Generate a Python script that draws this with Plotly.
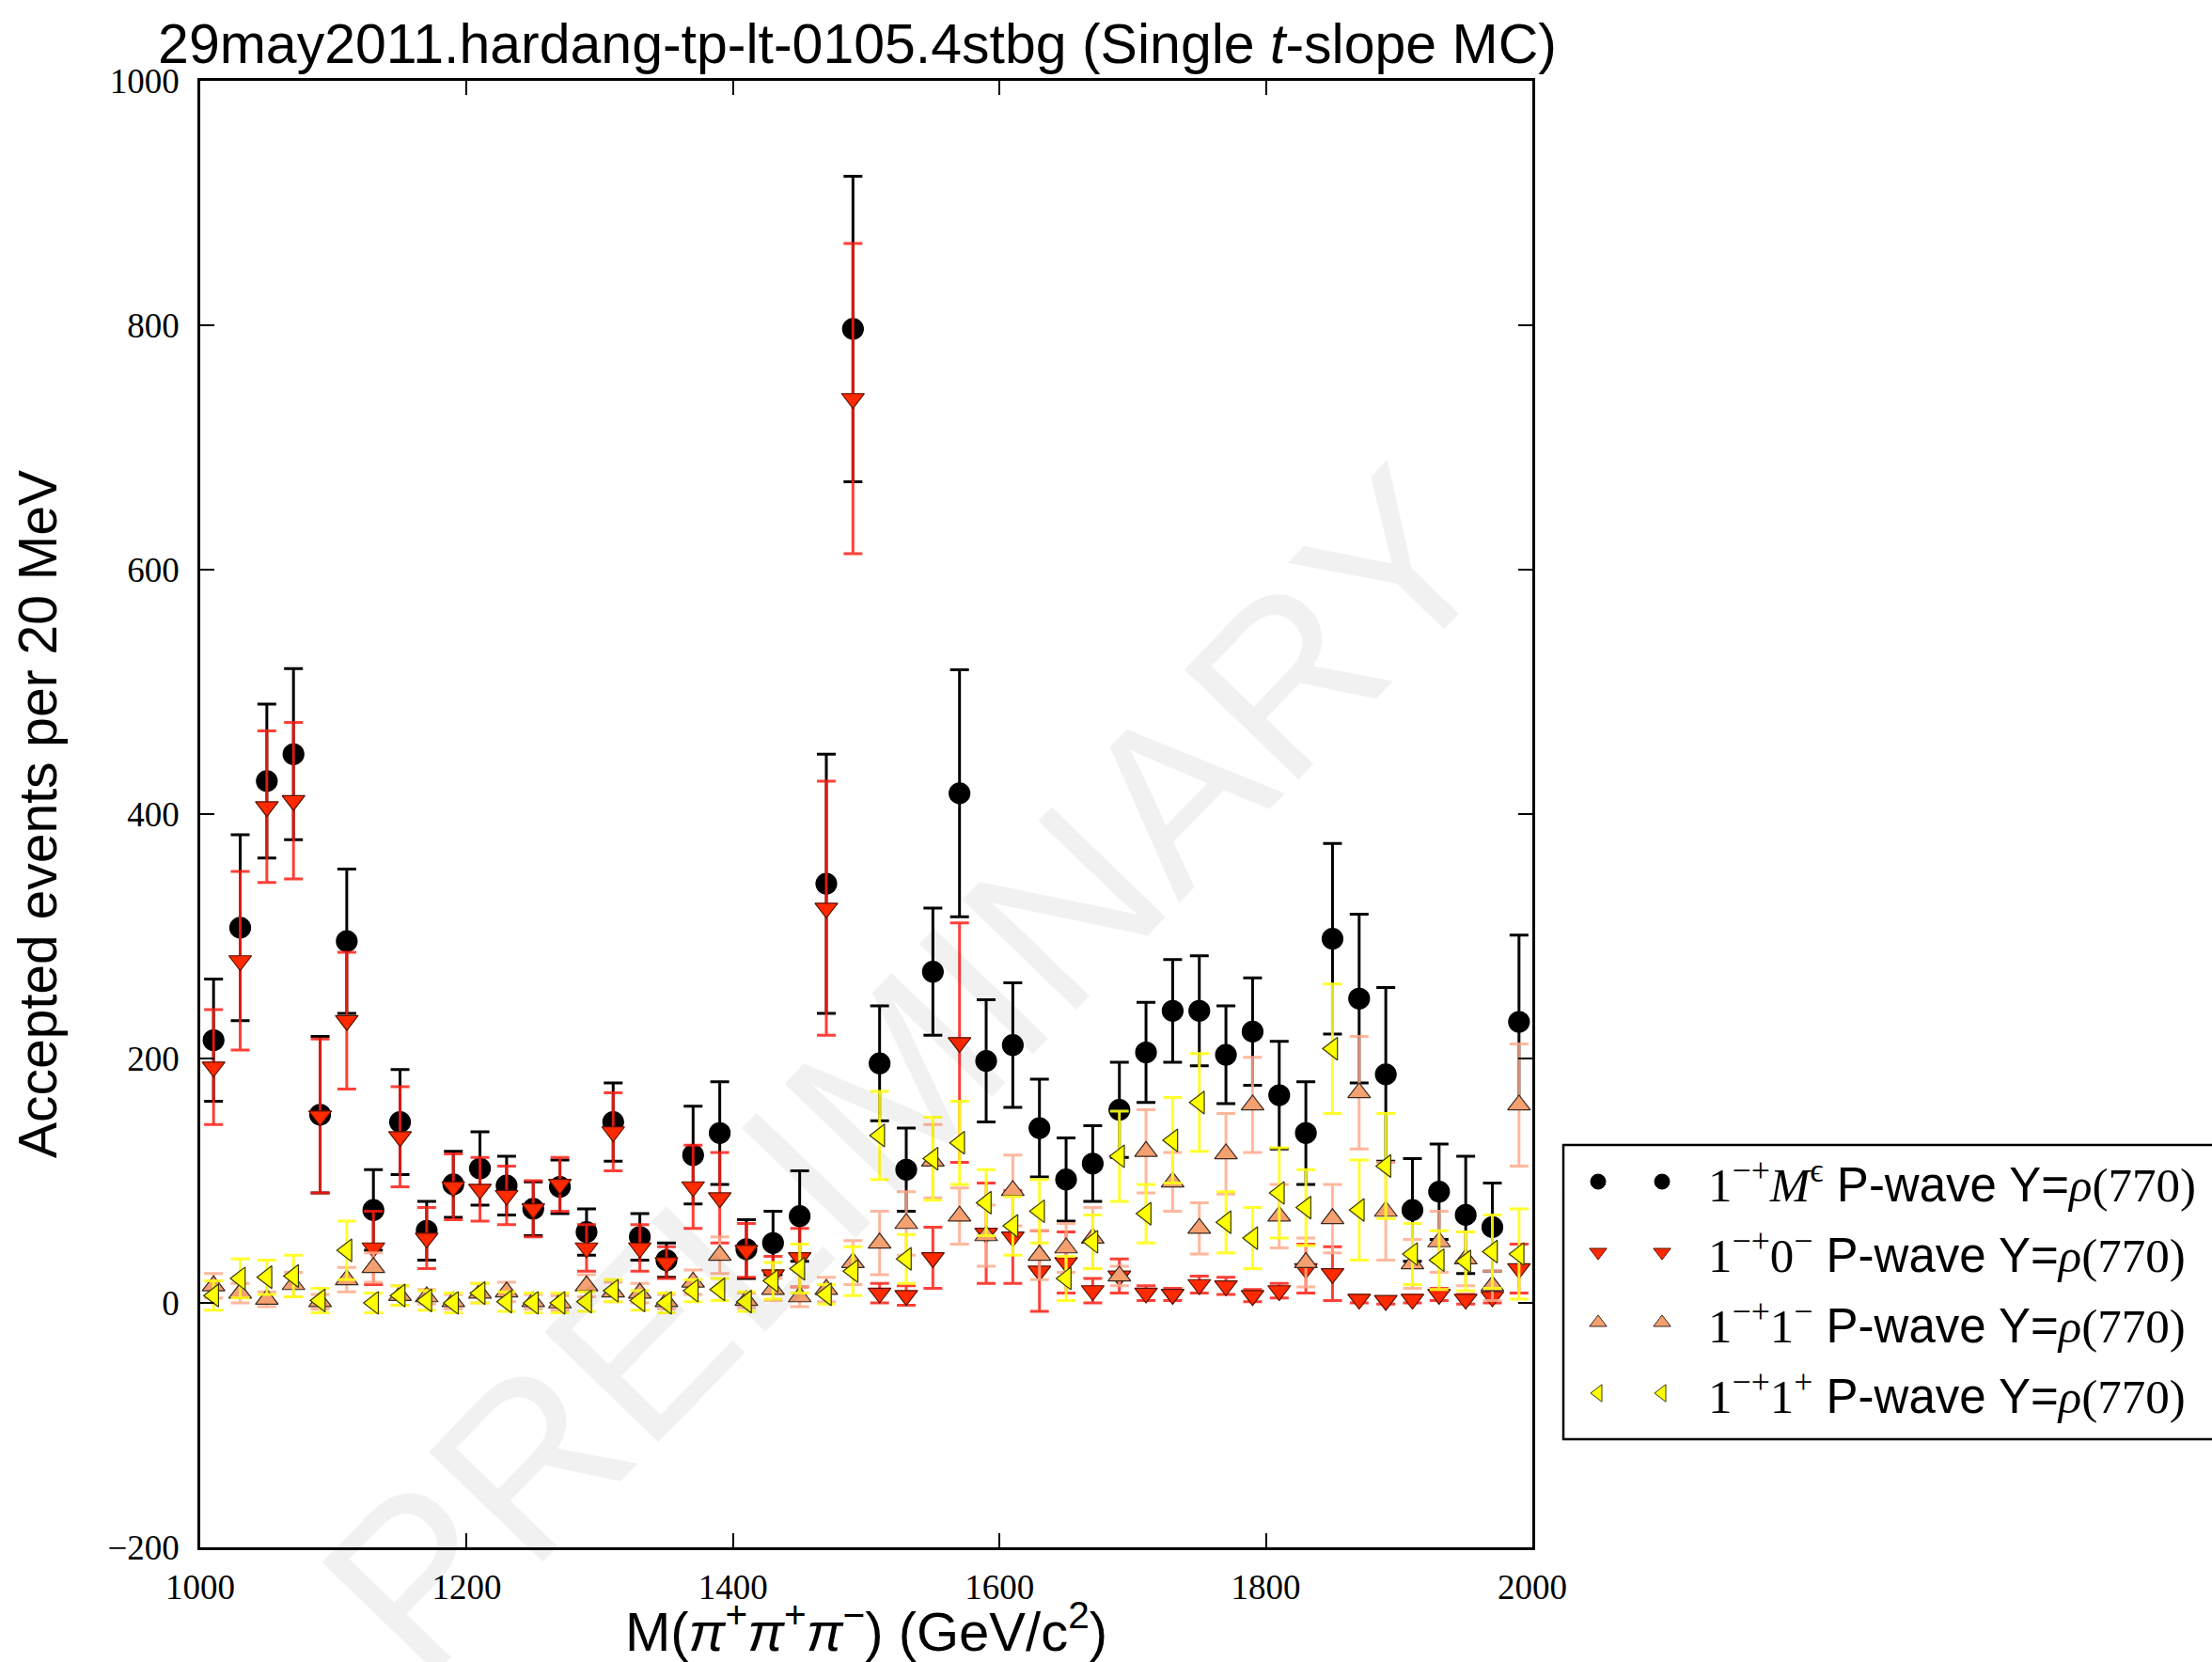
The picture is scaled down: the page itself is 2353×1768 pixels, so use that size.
import plotly.graph_objects as go

mass = [1010 + 20 * i for i in range(50)]

tot = [215, 307, 427, 449, 154, 296, 76, 148, 59, 97, 110, 96, 77, 95, 58, 148, 54, 35, 121, 139,
       44, 49, 71, 343, 797, 196, 109, 271, 417, 198, 211, 143, 101, 114, 158, 205, 239, 239, 203, 222,
       170, 139, 298, 249, 187, 76, 91, 72, 62, 230]
tot_err = [50, 76, 63, 70, 64, 59, 33, 43, 24, 27, 30, 24, 22, 22, 19, 32, 19, 14, 40, 42,
           24, 26, 37, 106, 125, 47, 34, 52, 101, 50, 51, 40, 34, 31, 39, 41, 42, 45, 40, 44,
           44, 42, 78, 69, 71, 42, 39, 48, 36, 71]

m0 = [193, 280, 406, 411, 153, 231, 45, 136, 53, 95, 93, 88, 77, 97, 45, 140, 45, 33, 95, 86,
      43, 23, 37, 323, 740, 8, 6, 37, 213, 57, 54, 26, 33, 10, 22, 8, 7, 15, 14, 6,
      10, 28, 24, 3, 2, 3, 7, 3, 5, 28]
m0_err = [47, 73, 62, 64, 63, 56, 30, 41, 25, 27, 26, 24, 23, 22, 19, 32, 19, 13, 34, 37,
          22, 15, 24, 104, 127, 8, 8, 25, 98, 41, 38, 33, 25, 10, 14, 6, 5, 7, 7, 5,
          6, 20, 22, 3, 3, 3, 5, 4, 5, 20]

m1m = [14, 8, 3, 15, 1, 19, 29, 6, 5, 1, 8, 9, 1, 0, 14, 9, 8, 1, 17, 39,
       2, 11, 5, 11, 33, 49, 65, 116, 71, 55, 92, 39, 45, 53, 22, 124, 99, 61, 122, 162,
       71, 33, 69, 172, 75, 32, 50, 36, 14, 162]
m1m_err = [10, 8, 6, 10, 6, 10, 12, 8, 6, 6, 8, 8, 6, 6, 9, 8, 8, 6, 10, 15,
           6, 9, 8, 10, 18, 26, 26, 30, 23, 25, 29, 20, 20, 25, 8, 34, 24, 21, 33, 39,
           26, 20, 28, 46, 40, 20, 25, 22, 12, 50]

m1p = [6, 20, 21, 22, 2, 43, 0, 6, 2, 0, 8, 1, 0, 0, 1, 10, 2, 0, 10, 11,
       1, 18, 28, 7, 26, 137, 36, 118, 131, 82, 63, 75, 20, 50, 120, 73, 133, 164, 66, 53,
       90, 78, 208, 76, 112, 40, 35, 34, 42, 40]
m1p_err = [12, 16, 14, 17, 10, 24, 8, 8, 8, 8, 8, 8, 8, 8, 8, 9, 8, 8, 9, 9,
           8, 15, 20, 8, 20, 36, 20, 34, 34, 27, 24, 26, 18, 22, 37, 24, 35, 40, 25, 25,
           37, 31, 53, 41, 43, 25, 24, 24, 30, 37]

x_ticks = [1000, 1200, 1400, 1600, 1800, 2000]
y_ticks = [-200, 0, 200, 400, 600, 800, 1000]

SERIF = "Liberation Serif"
labels = [
    f"<span style='font-family:{SERIF}'>1<sup>−+</sup><i>M</i><sup>ϵ</sup></span> P-wave Y=<span style='font-family:{SERIF}'><i>ρ</i>(770)</span>",
    f"<span style='font-family:{SERIF}'>1<sup>−+</sup>0<sup>−</sup></span> P-wave Y=<span style='font-family:{SERIF}'><i>ρ</i>(770)</span>",
    f"<span style='font-family:{SERIF}'>1<sup>−+</sup>1<sup>−</sup></span> P-wave Y=<span style='font-family:{SERIF}'><i>ρ</i>(770)</span>",
    f"<span style='font-family:{SERIF}'>1<sup>−+</sup>1<sup>+</sup></span> P-wave Y=<span style='font-family:{SERIF}'><i>ρ</i>(770)</span>",
]

series = [
    (tot, tot_err, "circle", "#000000", "#000000", "#000000"),
    (m0, m0_err, "triangle-down", "#ff2a00", "rgba(255,30,20,0.85)", "#5a1000"),
    (m1m, m1m_err, "triangle-up", "#f4a070", "rgba(255,170,140,0.85)", "#3a2a20"),
    (m1p, m1p_err, "triangle-left", "#ffff00", "rgba(255,255,20,0.9)", "#3a3a00"),
]

W, H = 2353, 1768
L, R, T, B = 213, 0, 86, 122
plot_right = 1630
pw = W - L - R
ph = H - T - B

fig = go.Figure()

for vals, errs, sym, fc, ec, lc in series:
    fig.add_trace(go.Scatter(
        x=mass, y=vals, mode="markers",
        marker=dict(symbol=sym, size=22 if sym == "circle" else 21, color=fc,
                    line=dict(color=lc, width=1.2)),
        error_y=dict(type="data", array=errs, visible=True, color=ec, thickness=3, width=10),
        showlegend=False, xaxis="x", yaxis="y",
    ))

# legend drawn on an auxiliary axis pair (matplotlib style, two markers per entry)
leg_px_left = 1658
leg_rows_px = 1257
leg_step = 75
leg_marker_x = [42, 110]
for i, (vals, errs, sym, fc, ec, lc) in enumerate(series):
    fig.add_trace(go.Scatter(
        x=leg_marker_x, y=[i, i], mode="markers",
        marker=dict(symbol=sym, size=16, color=fc, line=dict(color=lc, width=1)),
        showlegend=False, xaxis="x2", yaxis="y2", hoverinfo="skip",
    ))
    fig.add_annotation(x=157, y=i, xref="x2", yref="y2", text=labels[i], showarrow=False,
                       xanchor="left", yanchor="middle",
                       font=dict(family="Liberation Sans", size=51, color="black"))

fig.add_shape(type="rect", xref="x2", yref="y2", x0=5, x1=720, y0=-0.52, y1=3.653,
              line=dict(color="black", width=2.5), fillcolor="rgba(0,0,0,0)")

y2_top_px = leg_rows_px - 0.6 * leg_step
y2_bot_px = leg_rows_px + 3.75 * leg_step

fig.add_annotation(x=1530, y=190, xref="x", yref="y", text="PRELIMINARY", showarrow=False,
                   textangle=-46, font=dict(family="Liberation Sans", size=245,
                                            color="rgba(0,0,0,0.055)"))

tickfont = dict(family=SERIF, size=37, color="black")
fig.update_layout(
    width=W, height=H,
    margin=dict(l=L, r=R, t=T, b=B, autoexpand=False),
    paper_bgcolor="white", plot_bgcolor="white",
    title=dict(text="29may2011.hardang-tp-lt-0105.4stbg (Single <i>t</i>-slope MC)",
               x=912 / W, xanchor="center", y=1 - 46 / H, yanchor="middle",
               font=dict(family="Liberation Sans", size=59, color="black")),
    xaxis=dict(domain=[0, (plot_right - L) / pw], range=[1000, 2000], tickvals=x_ticks,
               ticks="inside", ticklen=15, tickwidth=1.5, tickcolor="black",
               showline=True, linecolor="black", linewidth=2.5, mirror="ticks",
               showgrid=False, zeroline=False, tickfont=tickfont, ticklabelstandoff=8,
               title=dict(text="M(<i>π</i><sup>+</sup><i>π</i><sup>+</sup><i>π</i><sup>−</sup>) (GeV/c<sup>2</sup>)",
                          font=dict(family="Liberation Sans", size=58, color="black"), standoff=10)),
    yaxis=dict(range=[-200, 1000], tickvals=y_ticks,
               ticks="inside", ticklen=15, tickwidth=1.5, tickcolor="black",
               showline=True, linecolor="black", linewidth=2.5, mirror="ticks",
               showgrid=False, zeroline=False, tickfont=tickfont, ticklabelstandoff=12,
               title=dict(text="Accepted events per 20 MeV",
                          font=dict(family="Liberation Sans", size=57, color="black"), standoff=36)),
    xaxis2=dict(domain=[(leg_px_left - L) / pw, 1.0], range=[0, W - leg_px_left],
                visible=False, fixedrange=True),
    yaxis2=dict(domain=[(H - B - y2_bot_px) / ph, (H - B - y2_top_px) / ph],
                range=[3.75, -0.6], visible=False, fixedrange=True, anchor="x2"),
)
fig.update_layout(xaxis2_anchor="y2")

fig.write_html("out.html")
